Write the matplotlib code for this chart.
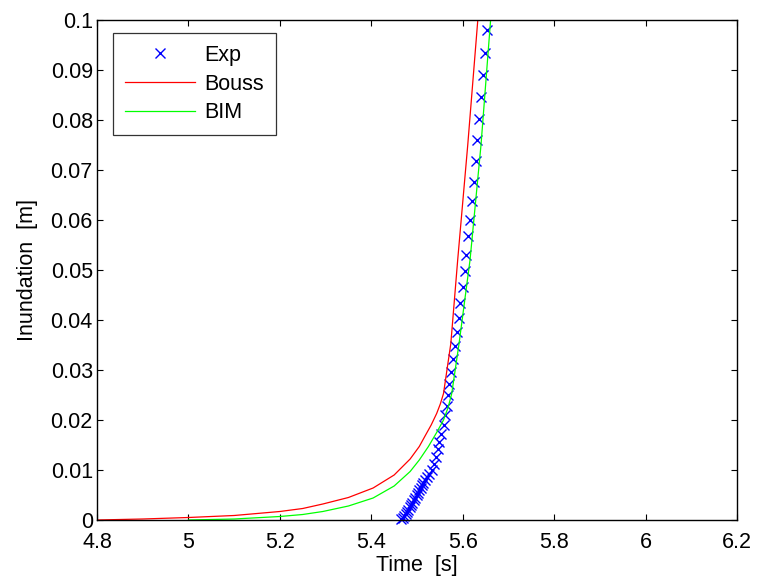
import matplotlib
matplotlib.use("Agg")
import matplotlib.pyplot as plt

plt.rcParams['font.family'] = ['Liberation Sans', 'DejaVu Sans']

# Measured run-up (experiment)
exp_t = [5.466, 5.469, 5.472, 5.475, 5.478, 5.481, 5.484, 5.487, 5.490, 5.493,
         5.496, 5.499, 5.502, 5.505, 5.508, 5.511, 5.514, 5.518, 5.522, 5.527,
         5.532, 5.537, 5.542, 5.545, 5.549, 5.553, 5.558, 5.561, 5.565, 5.568,
         5.571, 5.574, 5.579, 5.583, 5.587, 5.591, 5.595, 5.600, 5.604, 5.608,
         5.612, 5.617, 5.621, 5.625, 5.628, 5.632, 5.636, 5.640, 5.644, 5.649,
         5.653]
exp_y = [0.0002, 0.0005, 0.0009, 0.0013, 0.0017, 0.0021, 0.0026, 0.0030, 0.0035, 0.0040,
         0.0045, 0.0050, 0.0055, 0.0060, 0.0065, 0.0070, 0.0075, 0.0080, 0.0086, 0.0093,
         0.0100, 0.0113, 0.0127, 0.0142, 0.0157, 0.0173, 0.0191, 0.0210, 0.0229, 0.0250,
         0.0272, 0.0296, 0.0322, 0.0348, 0.0377, 0.0405, 0.0435, 0.0467, 0.0499, 0.0531,
         0.0568, 0.0601, 0.0638, 0.0677, 0.0719, 0.0760, 0.0802, 0.0847, 0.0890, 0.0935,
         0.0980]

# Boussinesq model
bouss_t = [4.8, 4.9, 5.0, 5.1, 5.2, 5.25, 5.294, 5.35, 5.404, 5.45, 5.485, 5.505,
           5.517, 5.531, 5.543, 5.551, 5.558, 5.574, 5.589, 5.611, 5.633]
bouss_y = [0.0, 0.0002, 0.0005, 0.0009, 0.0017, 0.0023, 0.0032, 0.0045, 0.0064, 0.0090,
           0.0122, 0.0147, 0.0167, 0.0190, 0.0213, 0.0232, 0.0253, 0.0353, 0.0520, 0.0750,
           0.1000]

# Boundary integral model
bim_t = [5.0, 5.1, 5.2, 5.25, 5.294, 5.35, 5.404, 5.45, 5.485, 5.505, 5.525, 5.543,
         5.558, 5.568, 5.576, 5.592, 5.616, 5.640, 5.661]
bim_y = [0.0, 0.0002, 0.0007, 0.0011, 0.0017, 0.0028, 0.0044, 0.0068, 0.0097, 0.0120,
         0.0147, 0.0175, 0.0200, 0.0225, 0.0253, 0.0353, 0.0520, 0.0750, 0.1000]

x_ticks = [4.8, 5.0, 5.2, 5.4, 5.6, 5.8, 6.0, 6.2]
x_labels = ['4.8', '5', '5.2', '5.4', '5.6', '5.8', '6', '6.2']
y_ticks = [0, 0.01, 0.02, 0.03, 0.04, 0.05, 0.06, 0.07, 0.08, 0.09, 0.1]
y_labels = ['0', '0.01', '0.02', '0.03', '0.04', '0.05', '0.06', '0.07', '0.08', '0.09', '0.1']

FS = 15.5

fig = plt.figure(figsize=(7.57, 5.87), dpi=100)
ax = fig.add_axes([97 / 757, 67 / 587, 640 / 757, 500 / 587])

ax.plot(exp_t, exp_y, linestyle='none', marker='x', color=(0, 0, 1),
        markersize=6.5, markeredgewidth=1.0, label='Exp', clip_on=False)
ax.plot(bouss_t, bouss_y, color=(1, 0, 0), linewidth=0.9, label='Bouss')
ax.plot(bim_t, bim_y, color=(0, 1, 0), linewidth=0.9, label='BIM')

ax.set_xlim(4.8, 6.2)
ax.set_ylim(0, 0.1)
ax.set_xticks(x_ticks)
ax.set_xticklabels(x_labels)
ax.set_yticks(y_ticks)
ax.set_yticklabels(y_labels)
ax.tick_params(direction='in', top=True, right=True, length=4.5, width=0.8,
               labelsize=FS)
ax.tick_params(axis='x', pad=9)
ax.tick_params(axis='y', pad=3)
for s in ax.spines.values():
    s.set_linewidth(1.0)

ax.set_xlabel('Time  [s]', fontsize=FS, labelpad=1)
ax.set_ylabel('Inundation  [m]', fontsize=FS, labelpad=9)

leg = ax.legend(loc='upper left', bbox_to_anchor=(0.025, 0.974), borderaxespad=0,
                fontsize=FS, frameon=True, fancybox=False, edgecolor='black',
                handlelength=3.25, handletextpad=0.45, borderpad=0.55,
                labelspacing=0.36)
leg.get_frame().set_linewidth(0.9)

fig.savefig('out.png', dpi=100)
